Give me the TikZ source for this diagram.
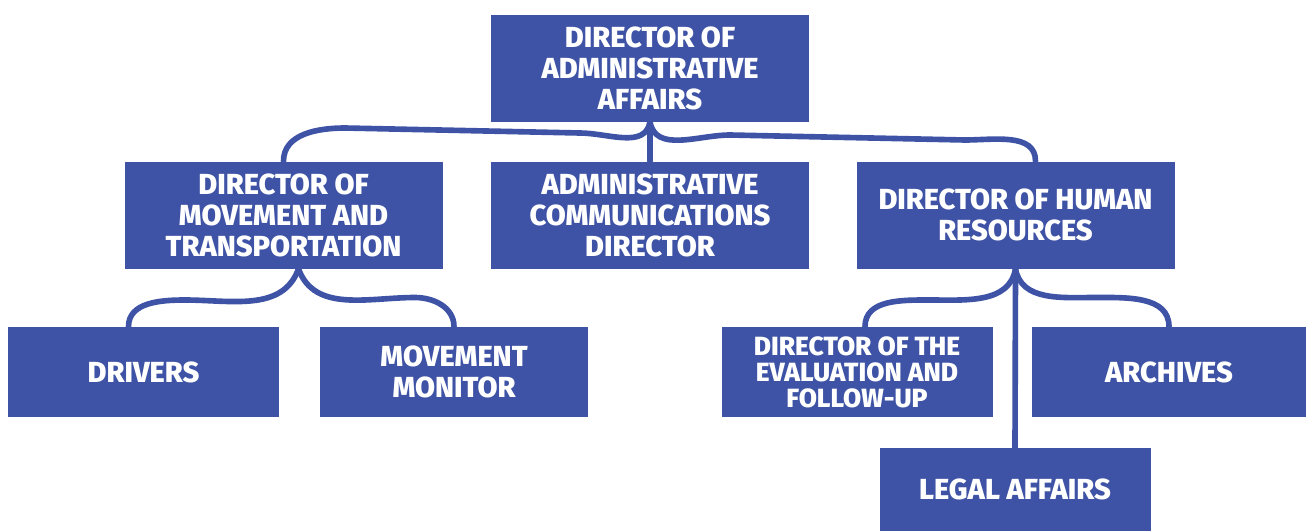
\documentclass[tikz,border=0pt]{standalone}
\usepackage{fontspec}
\setmainfont[BoldFont={Fira Sans ExtraBold}]{Fira Sans}
\usetikzlibrary{positioning}
\definecolor{boxBlue}{RGB}{62,83,165}
\colorlet{background}{white}
\colorlet{penColor}{boxBlue}
\tikzset{>=stealth}
\tikzset{
	orgbox/.style={rectangle,fill=penColor,text=background,align=center,inner sep=0pt,
		font=\bfseries\fontsize{16.5}{17.6}\selectfont},
	bigbox/.style={orgbox,minimum width=6.36cm,minimum height=2.14cm},
	lowbox/.style={orgbox,minimum width=5.42cm,minimum height=1.8cm},
	link/.style={penColor,line width=3.2pt,line cap=round}
}

\begin{document}
\begin{tikzpicture}
		\useasboundingbox[fill=background] (0,0) rectangle (26.12,-10.62);
		
		\node[bigbox] (admin) at (13.0,-1.36) {DIRECTOR OF\\ADMINISTRATIVE\\AFFAIRS};
		\node[bigbox] (move) at (5.67,-4.3) {DIRECTOR OF\\MOVEMENT AND\\TRANSPORTATION};
		\node[bigbox] (comm) at (13.0,-4.3) {ADMINISTRATIVE\\COMMUNICATIONS\\DIRECTOR};
		\node[bigbox] (hr) at (20.31,-4.3) {DIRECTOR OF HUMAN\\RESOURCES};
		
		\node[lowbox] (drivers) at (2.87,-7.44) {DRIVERS};
		\node[lowbox,minimum width=5.36cm] (monitor) at (9.08,-7.44) {MOVEMENT\\MONITOR};
		\node[lowbox,font=\bfseries\fontsize{15}{14.8}\selectfont] (eval) at (17.14,-7.44) {DIRECTOR OF THE\\EVALUATION AND\\FOLLOW-UP};
		\node[lowbox,minimum width=5.48cm] (archives) at (23.38,-7.44) {ARCHIVES};
		\node[lowbox,minimum height=1.66cm] (legal) at (20.3,-9.79) {LEGAL AFFAIRS};
		
		% branches below the top box
		\draw[link] (admin.south) to[out=-100,in=0] (11.6,-2.66) -- (6.9,-2.56) to[out=180,in=90] (move.north);
		\draw[link] (admin.south) -- (comm.north);
		\draw[link] (admin.south) to[out=-80,in=180] (14.6,-2.7) -- (19.3,-2.8) to[out=0,in=90] ([xshift=0.4cm]hr.north);
		
		% movement and transportation
		\draw[link] ([xshift=0.3cm]move.south) to[out=-110,in=0] (3.7,-6.0) to[out=180,in=90] ([xshift=-0.3cm]drivers.north);
		\draw[link] ([xshift=0.3cm]move.south) to[out=-70,in=180] (8.3,-5.95) to[out=0,in=90] (monitor.north);
		
		% human resources
		\draw[link] (hr.south) to[out=-100,in=0] (18.6,-6.0) to[out=180,in=90] ([xshift=0.16cm]eval.north);
		\draw[link] (hr.south) to[out=-80,in=180] (21.9,-5.95) to[out=0,in=90] (archives.north);
		\draw[link] (hr.south) -- (legal.north);
\end{tikzpicture}
\end{document}
